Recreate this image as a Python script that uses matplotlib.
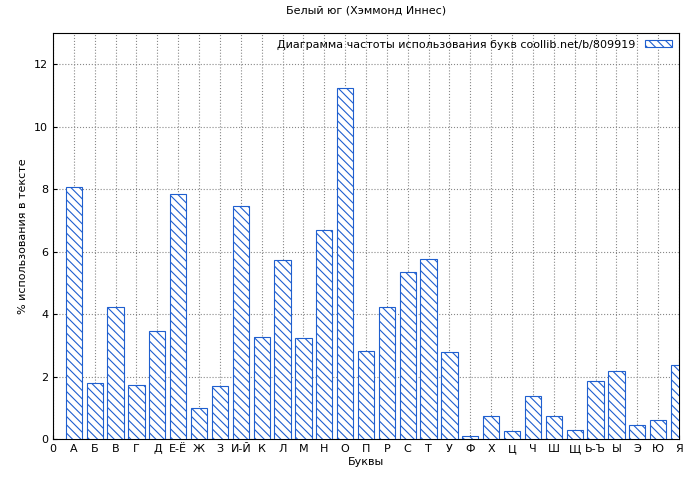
import matplotlib
matplotlib.use("Agg")
import matplotlib.pyplot as plt

labels = ["0","А","Б","В","Г","Д","Е-Ё","Ж","З","И-Й","К","Л","М","Н","О","П","Р","С","Т","У","Ф","Х","Ц","Ч","Ш","Щ","Ь-Ъ","Ы","Э","Ю","Я"]
letters = labels[1:]
values = [8.06,1.79,4.22,1.73,3.46,7.84,0.99,1.70,7.46,3.26,5.73,3.23,6.69,11.23,2.82,4.22,5.34,5.76,2.78,0.10,0.74,0.26,1.38,0.74,0.29,1.86,2.18,0.45,0.61,2.37]

plt.rcParams['font.family'] = ['DejaVu Sans']
plt.rcParams['hatch.color'] = '#1f5fcf'
plt.rcParams['hatch.linewidth'] = 0.8
fig = plt.figure(figsize=(7, 4.8), dpi=100)
ax = fig.add_axes([53/700, 1-439/480, (679-53)/700, (439-33)/480])
pos = list(range(1, len(letters)+1))
ax.bar(pos, values, width=0.78, facecolor='white', edgecolor='#1f5fcf', hatch='\\\\\\\\', linewidth=0.8,
       label='Диаграмма частоты использования букв coollib.net/b/809919', zorder=3)
ax.set_xlim(0, 30)
ax.set_ylim(0, 13)
ax.set_xticks(range(len(labels)))
ax.set_xticklabels(labels, fontsize=8)
ax.set_yticks(range(0, 13, 2))
ax.tick_params(labelsize=8, direction='in', length=3)
ax.grid(True, linestyle=':', color='#888888', linewidth=0.8, zorder=0)
ax.set_xlabel('Буквы', fontsize=8, labelpad=2)
ax.set_ylabel('% использования в тексте', fontsize=8)
ax.set_title('Белый юг (Хэммонд Иннес)', fontsize=8, pad=14)
ax.legend(loc='upper right', frameon=False, fontsize=8, handlelength=2.5, handleheight=0.6,
          markerfirst=False, borderaxespad=0.2)
fig.savefig('out.png', dpi=100)
